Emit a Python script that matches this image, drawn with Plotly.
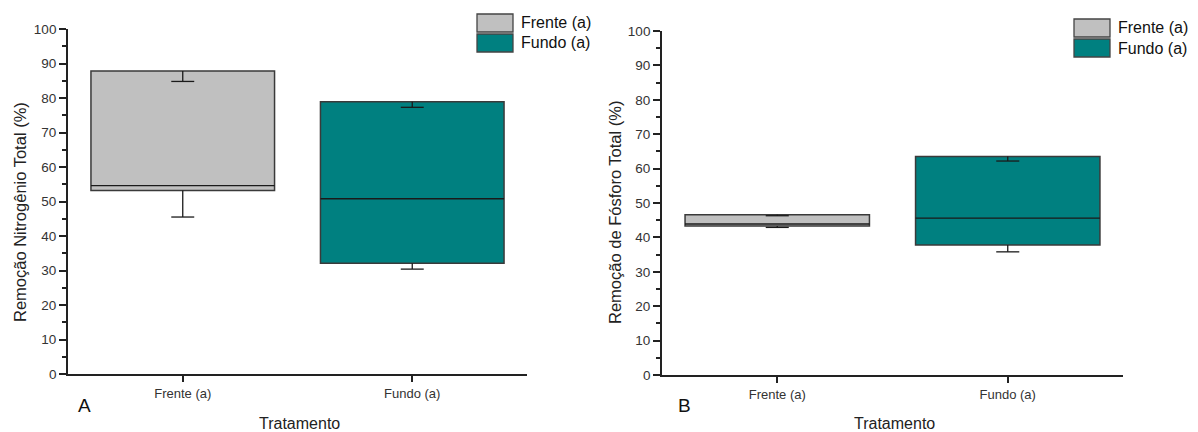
import plotly.graph_objects as go

W, H = 1198, 432

categories = ["Frente (a)", "Fundo (a)"]
series_names = ["Frente (a)", "Fundo (a)"]
colors = ["#C0C0C0", "#008080"]

# Panel A - Nitrogen removal (%)
n_q1 = [53.2, 32.1]
n_median = [54.6, 50.8]
n_q3 = [87.8, 78.9]
n_whisk_low = [45.5, 30.4]
n_whisk_high = [84.8, 77.3]

# Panel B - Phosphorus removal (%)
p_q1 = [43.3, 37.8]
p_median = [43.9, 45.6]
p_q3 = [46.6, 63.5]
p_whisk_low = [42.9, 35.8]
p_whisk_high = [46.3, 62.2]

y_titles = ["Remoção Nitrogênio Total (%)", "Remoção de Fósforo Total (%)"]
x_title = "Tratamento"
panel_labels = ["A", "B"]

FONT = "Liberation Sans, Arial, sans-serif"
BOX_W = 0.8
CAP_HALF = 0.05

fig = go.Figure()

def add_panel(xa, ya, q1, med, q3, wl, wh):
    xs = [1, 2]
    for i in range(2):
        fig.add_trace(go.Bar(
            x=[xs[i]], y=[q3[i] - q1[i]], base=[q1[i]], width=BOX_W,
            marker=dict(color=colors[i], line=dict(color="#3a3a3a", width=1.5)),
            xaxis=xa, yaxis=ya, showlegend=False, name=series_names[i],
        ))
        fig.add_trace(go.Scatter(
            x=[xs[i] - BOX_W / 2, xs[i] + BOX_W / 2], y=[med[i], med[i]],
            mode="lines", line=dict(color="#1a1a1a", width=1.3),
            xaxis=xa, yaxis=ya, showlegend=False, hoverinfo="skip",
        ))
        wx = [xs[i], xs[i], None, xs[i] - CAP_HALF, xs[i] + CAP_HALF, None,
              xs[i], xs[i], None, xs[i] - CAP_HALF, xs[i] + CAP_HALF]
        wy = [q3[i], wh[i], None, wh[i], wh[i], None,
              q1[i], wl[i], None, wl[i], wl[i]]
        fig.add_trace(go.Scatter(
            x=wx, y=wy, mode="lines", line=dict(color="#1a1a1a", width=1.3),
            xaxis=xa, yaxis=ya, showlegend=False, hoverinfo="skip",
        ))

add_panel("x", "y", n_q1, n_median, n_q3, n_whisk_low, n_whisk_high)
add_panel("x2", "y2", p_q1, p_median, p_q3, p_whisk_low, p_whisk_high)

def px(v):
    return v / W

def py(v):
    return 1 - v / H

panels = [
    dict(x0=68, x1=527, ytop=29, ybot=374),
    dict(x0=662, x1=1123, ytop=31, ybot=375),
]

axis_common_x = dict(
    range=[0.5, 2.5], tickvals=[1, 2], ticktext=categories, automargin=False,
    showline=True, linecolor="#222", linewidth=1.8, showgrid=False, zeroline=False,
    ticks="outside", ticklen=6, tickwidth=1.8, tickcolor="#222",
    tickfont=dict(family=FONT, size=13, color="#333"),
)
axis_common_y = dict(
    range=[0, 100], tickvals=list(range(0, 101, 10)), automargin=False,
    showline=True, linecolor="#222", linewidth=1.8, showgrid=False, zeroline=False,
    ticks="outside", ticklen=7, tickwidth=1.8, tickcolor="#222",
    tickfont=dict(family=FONT, size=13.5, color="#333"),
    minor=dict(tickvals=list(range(5, 100, 10)), ticks="outside", ticklen=4,
               tickwidth=1.5, tickcolor="#222"),
)

fig.update_layout(
    xaxis=dict(domain=[px(panels[0]["x0"]), px(panels[0]["x1"])], anchor="y", **axis_common_x),
    yaxis=dict(domain=[py(panels[0]["ybot"]), py(panels[0]["ytop"])], anchor="x", **axis_common_y),
    xaxis2=dict(domain=[px(panels[1]["x0"]), px(panels[1]["x1"])], anchor="y2", **axis_common_x),
    yaxis2=dict(domain=[py(panels[1]["ybot"]), py(panels[1]["ytop"])], anchor="x2", **axis_common_y),
)

annotations = []
shapes = []
legend_pos = [dict(sx=477, tx=519, y1=14), dict(sx=1074, tx=1116, y1=19)]
for k, p in enumerate(panels):
    annotations.append(dict(
        text=y_titles[k], xref="paper", yref="paper",
        x=px([20, 615][k]), y=py(212),
        xanchor="center", yanchor="middle", textangle=-90, showarrow=False,
        font=dict(family=FONT, size=16.5, color="#222"),
    ))
    annotations.append(dict(
        text=x_title, xref="paper", yref="paper",
        x=px((p["x0"] + p["x1"]) / 2 + 2), y=py(423),
        xanchor="center", yanchor="middle", showarrow=False,
        font=dict(family=FONT, size=16, color="#222"),
    ))
    annotations.append(dict(
        text=panel_labels[k], xref="paper", yref="paper",
        x=px([85, 684][k]), y=py(405),
        xanchor="center", yanchor="middle", showarrow=False,
        font=dict(family=FONT, size=19, color="#111"),
    ))
    lp = legend_pos[k]
    for i in range(2):
        top = lp["y1"] + i * 20
        shapes.append(dict(
            type="rect", xref="paper", yref="paper",
            x0=px(lp["sx"]), x1=px(lp["sx"] + 36), y0=py(top + 18), y1=py(top),
            fillcolor=colors[i], line=dict(color="#444", width=1.3),
        ))
        annotations.append(dict(
            text=series_names[i], xref="paper", yref="paper",
            x=px(lp["tx"]), y=py(top + 9), xanchor="left", yanchor="middle",
            showarrow=False, font=dict(family=FONT, size=16, color="#111"),
        ))

fig.update_layout(
    width=W, height=H, margin=dict(l=0, r=0, t=0, b=0, pad=0),
    paper_bgcolor="white", plot_bgcolor="white",
    annotations=annotations, shapes=shapes, showlegend=False,
    barmode="overlay",
)

fig.write_html("out.html")
